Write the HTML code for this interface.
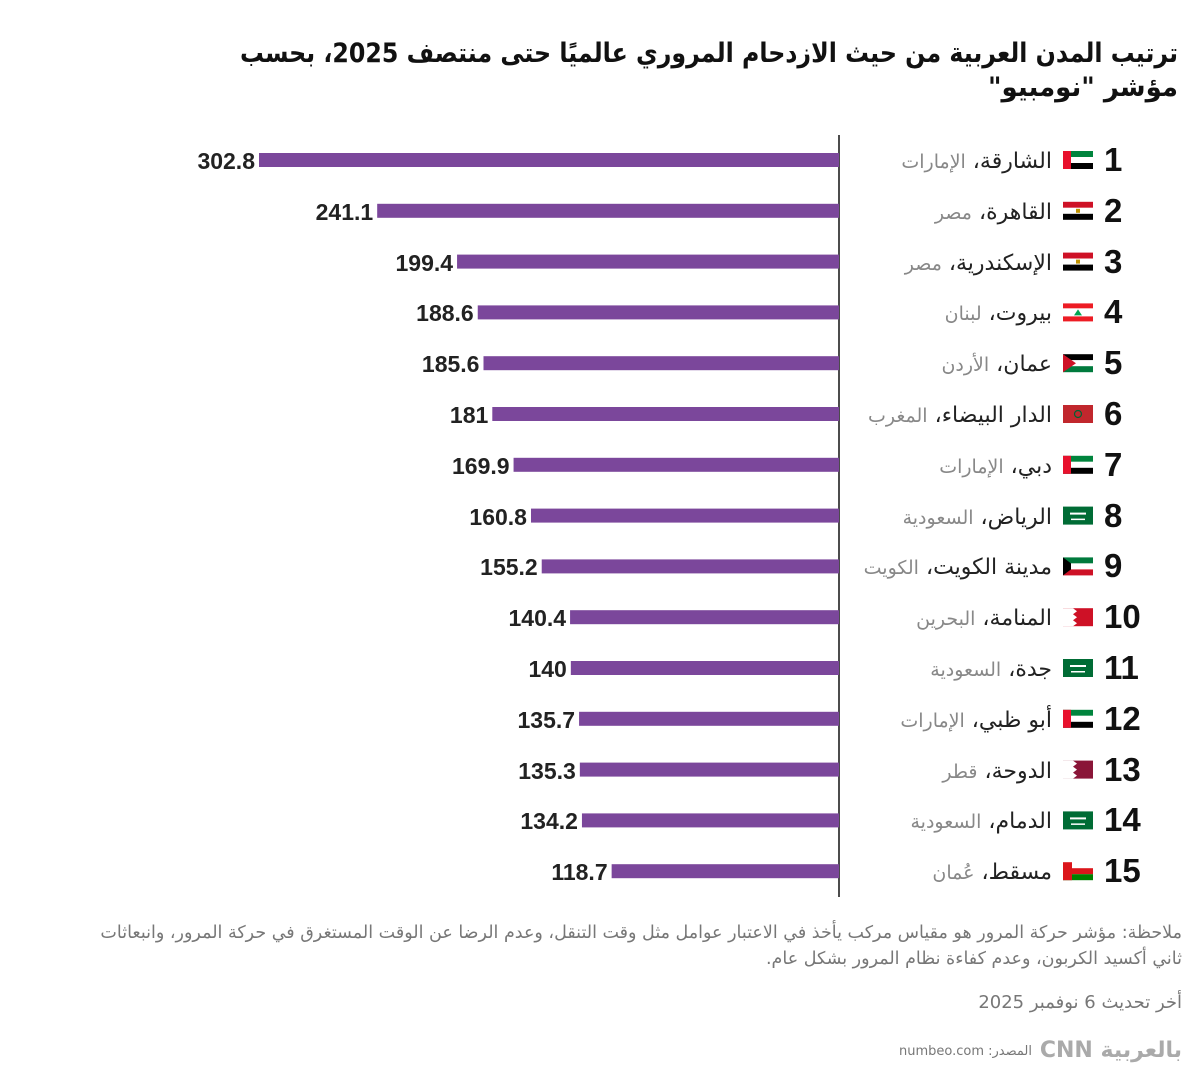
<!DOCTYPE html>
<html><head><meta charset="utf-8">
<style>
body{margin:0;background:#fff;}
#wrap{position:relative;width:1200px;height:1083px;overflow:hidden;background:#fff;font-family:"DejaVu Sans","Liberation Sans",sans-serif;}
.t{position:absolute;white-space:nowrap;direction:rtl;}
.lab{position:absolute;right:148px;direction:rtl;white-space:nowrap;font-size:22px;color:#222;line-height:26px;}
.lab span{color:#888;font-size:19px;}
.rank{position:absolute;left:1104px;font-family:"Liberation Sans",sans-serif;font-weight:bold;font-size:33px;color:#111;line-height:34px;}
.val{position:absolute;font-family:"Liberation Sans",sans-serif;font-weight:bold;font-size:23px;color:#222;line-height:24px;text-align:right;width:120px;}
</style></head>
<body>
<div id="wrap">
<svg width="1200" height="140" style="position:absolute;left:0;top:0">
<text x="1178" y="62" text-anchor="start" direction="rtl" font-family="DejaVu Sans,sans-serif" font-weight="bold" font-size="27" fill="#111" textLength="938" lengthAdjust="spacingAndGlyphs">ترتيب المدن العربية من حيث الازدحام المروري عالميًا حتى منتصف 2025، بحسب</text>
<text x="1178" y="96" text-anchor="start" direction="rtl" font-family="DejaVu Sans,sans-serif" font-weight="bold" font-size="27" fill="#111" textLength="190" lengthAdjust="spacingAndGlyphs">مؤشر "نومبيو"</text>
</svg>
<svg id="plot" width="1200" height="1083" style="position:absolute;left:0;top:0"></svg>
<div class="t" style="right:18px;top:920px;font-size:17.5px;color:#777;line-height:26px;width:1100px;text-align:right;white-space:normal;">ملاحظة: مؤشر حركة المرور هو مقياس مركب يأخذ في الاعتبار عوامل مثل وقت التنقل، وعدم الرضا عن الوقت المستغرق في حركة المرور، وانبعاثات ثاني أكسيد الكربون، وعدم كفاءة نظام المرور بشكل عام.</div>
<div class="t" style="right:18px;top:992px;font-size:18px;color:#777;">أخر تحديث 6 نوفمبر 2025</div>
<div class="t" style="right:18px;top:1038px;font-size:22px;color:#aaa;font-weight:bold;">بالعربية CNN</div>
<div class="t" style="right:168px;top:1044px;font-size:13px;color:#777;">المصدر: numbeo.com</div>
</div>
<script>
const cities=["الشارقة","القاهرة","الإسكندرية","بيروت","عمان","الدار البيضاء","دبي","الرياض","مدينة الكويت","المنامة","جدة","أبو ظبي","الدوحة","الدمام","مسقط"];
const countries=["الإمارات","مصر","مصر","لبنان","الأردن","المغرب","الإمارات","السعودية","الكويت","البحرين","السعودية","الإمارات","قطر","السعودية","عُمان"];
const flags=["ae","eg","eg","lb","jo","ma","ae","sa","kw","bh","sa","ae","qa","sa","om"];
const values=[302.8,241.1,199.4,188.6,185.6,181,169.9,160.8,155.2,140.4,140,135.7,135.3,134.2,118.7];
const valueLabels=["302.8","241.1","199.4","188.6","185.6","181","169.9","160.8","155.2","140.4","140","135.7","135.3","134.2","118.7"];

const NS="http://www.w3.org/2000/svg";
const svg=document.getElementById('plot');
const wrap=document.getElementById('wrap');
const x0=839, xMax=302.8, xPix=580;
function xs(v){return x0 - v/xMax*xPix;}
function ys(i){return 160 + i*50.8;}
function mk(tag,attrs,parent){const e=document.createElementNS(NS,tag);for(const k in attrs)e.setAttribute(k,attrs[k]);(parent||svg).appendChild(e);return e;}
const axis=mk('line',{x1:x0,x2:x0,y1:135,y2:897,stroke:'#111','stroke-width':1.5});


function flag(code,x,y){
  const g=mk('g',{transform:`translate(${x},${y})`});
  const w=30,h=18;
  const r=(a,b,c,d,f)=>mk('rect',{x:a,y:b,width:c,height:d,fill:f},g);
  if(code==='ae'){r(0,0,w,6,'#00843d');r(0,6,w,6,'#fff');r(0,12,w,6,'#000');r(0,0,8,h,'#e8112d');}
  else if(code==='eg'){r(0,0,w,6,'#ce1126');r(0,6,w,6,'#fff');r(0,12,w,6,'#000');r(13,7,4,4,'#c09300');}
  else if(code==='lb'){r(0,0,w,5,'#ed1c24');r(0,5,w,8,'#fff');r(0,13,w,5,'#ed1c24');mk('polygon',{points:'15,6 11,12 19,12',fill:'#00a651'},g);}
  else if(code==='jo'){r(0,0,w,6,'#000');r(0,6,w,6,'#fff');r(0,12,w,6,'#007a3d');mk('polygon',{points:'0,0 13,9 0,18',fill:'#ce1126'},g);}
  else if(code==='ma'){r(0,0,w,h,'#c1272d');mk('circle',{cx:15,cy:9,r:3.5,fill:'none',stroke:'#006233','stroke-width':1.2},g);}
  else if(code==='sa'){r(0,0,w,h,'#006c35');r(7,6,16,2,'#fff');r(8,12,14,1.5,'#fff');}
  else if(code==='kw'){r(0,0,w,6,'#007a3d');r(0,6,w,6,'#fff');r(0,12,w,6,'#ce1126');mk('polygon',{points:'0,0 8,6 8,12 0,18',fill:'#000'},g);}
  else if(code==='bh'){r(0,0,w,h,'#ce1126');mk('polygon',{points:'0,0 10,0 14,3 10,6 14,9 10,12 14,15 10,18 0,18',fill:'#fff'},g);}
  else if(code==='qa'){r(0,0,w,h,'#8a1538');mk('polygon',{points:'0,0 10,0 14,3 10,6 14,9 10,12 14,15 10,18 0,18',fill:'#fff'},g);}
  else if(code==='om'){r(0,0,w,6,'#fff');r(0,6,w,6,'#db161b');r(0,12,w,6,'#008000');r(0,0,9,h,'#db161b');}
  return g;
}
values.forEach((v,i)=>{
  const y=ys(i);
  const b=mk('rect',{x:xs(v),y:y-7,width:x0-xs(v),height:14,fill:'#7b479b'});
  
  
  const vl=document.createElement('div');vl.className='val';
  vl.style.left=(xs(v)-124)+'px';vl.style.top=(y-11)+'px';vl.textContent=valueLabels[i];
  
  
  wrap.appendChild(vl);
  const f=flag(flags[i],1063,y-9);
  
  
  const lb=document.createElement('div');lb.className='lab';lb.style.top=(y-11)+'px';
  lb.innerHTML=cities[i]+'، <span>'+countries[i]+'</span>';
  
  
  wrap.appendChild(lb);
  const rk=document.createElement('div');rk.className='rank';rk.style.top=(y-17)+'px';rk.textContent=i+1;
  
  
  wrap.appendChild(rk);
});
</script>
</body></html>
